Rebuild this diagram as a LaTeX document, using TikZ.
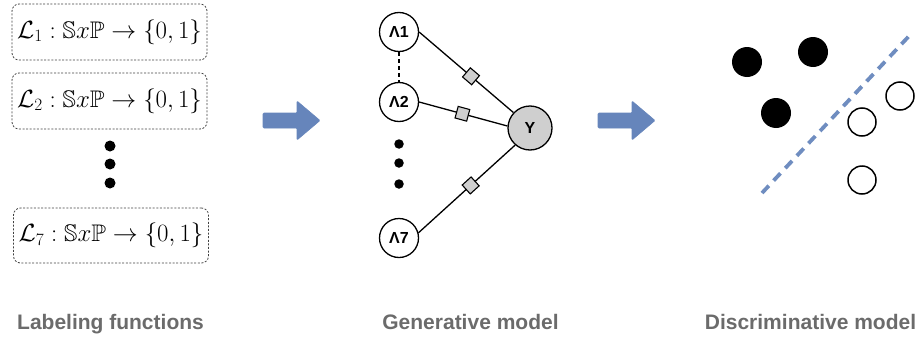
\documentclass[tikz,border=0pt]{standalone}
\usepackage{amsmath,amssymb}
\usepackage{fontspec}
\newfontfamily\labfont{Liberation Sans}
\usetikzlibrary{shapes.geometric}
\definecolor{arrowblue}{HTML}{6685BB}
\definecolor{lineblue}{HTML}{6F8DC0}
\definecolor{labgray}{HTML}{6B6B6B}
\definecolor{nodegray}{HTML}{CFCFCF}
\tikzset{
  lfbox/.style={draw=black!75, dashed, dash pattern=on 2pt off 1.6pt, line width=0.8pt, rounded corners=7pt,
    minimum width=195pt, minimum height=56pt, inner sep=0pt, font=\fontsize{24}{28}\selectfont},
  lam/.style={circle, draw, line width=1.3pt, fill=white, minimum size=39pt, inner sep=0pt,
    font=\labfont\bfseries\fontsize{16}{18}\selectfont},
  ynode/.style={lam, fill=nodegray, minimum size=44pt},
  factor/.style={draw, line width=1.1pt, fill=nodegray, minimum size=12pt, inner sep=0pt, sloped},
  edge/.style={line width=1.3pt},
  bigdot/.style={circle, fill=black, inner sep=0pt},
  blockarrow/.style={fill=arrowblue, draw=arrowblue, line width=0.6pt, rounded corners=1pt},
  caption/.style={font=\labfont\bfseries\fontsize{21}{24}\selectfont, text=labgray, anchor=base},
  fullpt/.style={circle, fill=black, minimum size=30pt, inner sep=0pt},
  openpt/.style={circle, draw=black, line width=1.5pt, fill=white, minimum size=28pt, inner sep=0pt},
}
\begin{document}
\begin{tikzpicture}[x=1pt, y=-1pt]
\useasboundingbox (0,0) rectangle (920,340);
% Labeling functions
\node[lfbox] (b1) at (109.5,32) {$\mathcal{L}_1 : \mathbb{S}x\mathbb{P} \rightarrow \{0,1\}$};
\node[lfbox] (b2) at (109.5,101) {$\mathcal{L}_2 : \mathbb{S}x\mathbb{P} \rightarrow \{0,1\}$};
\node[lfbox, minimum height=55pt] (b7) at (111,235.5) {$\mathcal{L}_7 : \mathbb{S}x\mathbb{P} \rightarrow \{0,1\}$};
\node[bigdot, minimum size=11pt] (ld1) at (110,146) {};
\node[bigdot, minimum size=11pt] (ld2) at (110,164) {};
\node[bigdot, minimum size=11pt] (ld3) at (110,183) {};
% arrows
\fill[blockarrow] (263,113) -- (297,113) -- (297,101) -- (320,120.5) -- (297,140) -- (297,128) -- (263,128) -- cycle;
\fill[blockarrow] (598,113) -- (632,113) -- (632,101) -- (655,120.5) -- (632,140) -- (632,128) -- (598,128) -- cycle;
% Generative model
\node[lam] (l1) at (399,32) {\char"039B 1};
\node[lam] (l2) at (399,102) {\char"039B 2};
\node[lam] (l7) at (399,238) {\char"039B 7};
\node[ynode] (y) at (530,128) {Y};
\draw[edge, dash pattern=on 4pt off 3pt] (l1) -- (l2);
\draw[edge] (l1.east) -- node[factor, pos=0.55] (f1) {} (y.137);
\draw[edge] (l2.east) -- node[factor, pos=0.49] (f2) {} (y.175);
\draw[edge] (l7.15) -- node[factor, pos=0.54] (f7) {} (y.229);
\node[bigdot, minimum size=9.5pt] (md1) at (399,144) {};
\node[bigdot, minimum size=9.5pt] (md2) at (399,163) {};
\node[bigdot, minimum size=9.5pt] (md3) at (399,184) {};
% Discriminative model
\node[fullpt] (p1) at (747,62) {};
\node[fullpt] (p2) at (813,52) {};
\node[fullpt] (p3) at (776,113) {};
\node[openpt] (q1) at (900,96) {};
\node[openpt] (q2) at (862,122) {};
\node[openpt] (q3) at (862,180) {};
\coordinate (s1) at (762,193);
\coordinate (s2) at (910,35);
\draw[lineblue, line width=3.8pt, dash pattern=on 10pt off 7pt] (s1) -- (s2);
% captions
\node[caption] (c1) at (110.5,329) {Labeling functions};
\node[caption] (c2) at (470.5,329) {Generative model};
\node[caption] (c3) at (810.5,329) {Discriminative model};
\end{tikzpicture}
\end{document}
